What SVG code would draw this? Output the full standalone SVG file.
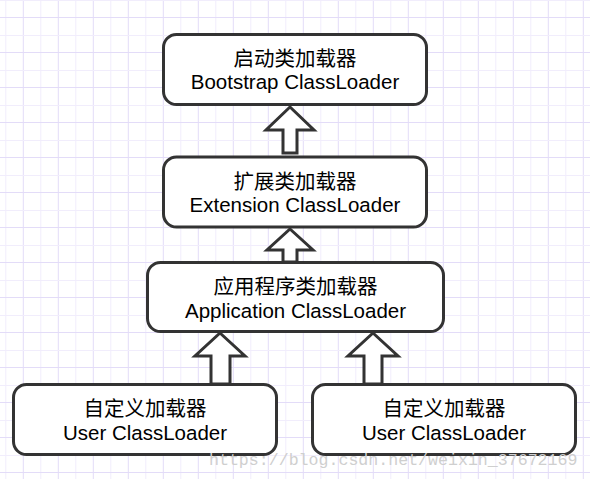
<svg xmlns="http://www.w3.org/2000/svg" width="590" height="479" viewBox="0 0 590 479">
<defs>
<pattern id="grid" patternUnits="userSpaceOnUse" x="0" y="0" width="35" height="35">
<line x1="5.8" y1="0" x2="5.8" y2="35" stroke="#f1edfc" stroke-width="1"/>
<line x1="23.3" y1="0" x2="23.3" y2="35" stroke="#e3dcf8" stroke-width="1"/>
<line x1="0" y1="0.5" x2="35" y2="0.5" stroke="#f1edfc" stroke-width="1"/>
<line x1="0" y1="17.5" x2="35" y2="17.5" stroke="#e3dcf8" stroke-width="1"/>
</pattern>
</defs>
<style>
.box{fill:#ffffff;stroke:#333333;stroke-width:3}
.arrow{fill:#ffffff;stroke:#333333;stroke-width:3;stroke-linejoin:miter}
.t{font-family:"Liberation Sans","Noto Sans CJK SC",Arial,sans-serif;font-size:20.5px;fill:#000000;text-anchor:middle;dominant-baseline:central}
.wm{font-family:"Liberation Mono","DejaVu Sans Mono",monospace;font-size:16.6px;fill:#cfcfcf}
</style>
<rect x="0" y="0" width="590" height="479" fill="#ffffff"/>
<rect x="0" y="0" width="590" height="479" fill="url(#grid)"/>
<g id="connectors">
<polygon class="arrow" points="290,107 314,130 297,130 297,153 283,153 283,130 266,130"/>
<polygon class="arrow" points="290,229 313,250 297,250 297,262 283,262 283,250 267,250"/>
<polygon class="arrow" points="220,333 245,356 230,356 230,384 211,384 211,356 195,356"/>
<polygon class="arrow" points="373,333 398,356 382,356 382,384 364,384 364,356 348,356"/>
</g>
<g id="bootstrap">
<rect class="box" x="163.5" y="34.5" width="263" height="70" rx="13"/>
<text class="t" x="295" y="58">启动类加载器</text>
<text class="t" x="295" y="81">Bootstrap ClassLoader</text>
</g>
<g id="extension">
<rect class="box" x="163.5" y="157" width="263" height="70" rx="13"/>
<text class="t" x="295" y="181">扩展类加载器</text>
<text class="t" x="295" y="204">Extension ClassLoader</text>
</g>
<g id="application">
<rect class="box" x="147.5" y="262.5" width="296" height="69" rx="13"/>
<text class="t" x="295.5" y="286">应用程序类加载器</text>
<text class="t" x="295.5" y="310">Application ClassLoader</text>
</g>
<g id="user1">
<rect class="box" x="13.5" y="384.5" width="263" height="70" rx="13"/>
<text class="t" x="145" y="408">自定义加载器</text>
<text class="t" x="145" y="432">User ClassLoader</text>
</g>
<g id="user2">
<rect class="box" x="312.5" y="384.5" width="263" height="70" rx="13"/>
<text class="t" x="444" y="408">自定义加载器</text>
<text class="t" x="444" y="432">User ClassLoader</text>
</g>
<text class="wm" x="209" y="465">https://blog.csdn.net/weixin_37672169</text>
</svg>
